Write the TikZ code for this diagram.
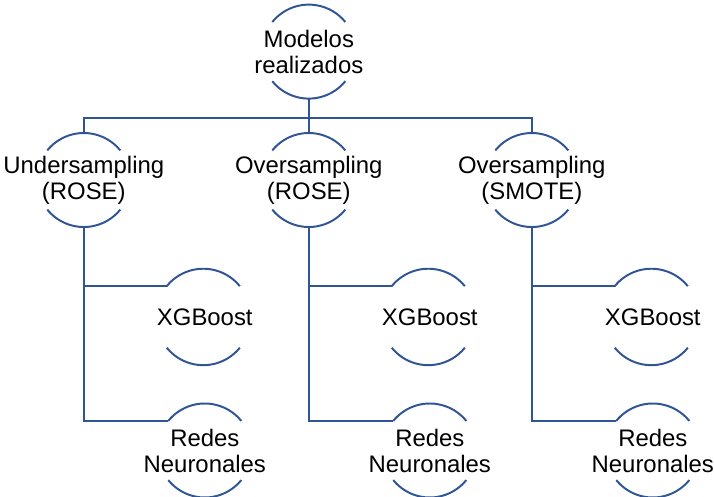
\documentclass[tikz,border=0pt]{standalone}
\usepackage{fontspec}
\setmainfont{Liberation Sans}
\usetikzlibrary{positioning, calc}
\definecolor{arcblue}{RGB}{47,85,151}
\tikzset{
  mdl/.style = {circle, minimum size=2.35cm, inner sep=-40pt, outer sep=0pt, align=center, font=\fontsize{17}{18.5}\selectfont},
  arcline/.style = {draw=arcblue, line width=1.4pt},
  link/.style = {draw=arcblue, line width=1.4pt}
}

\begin{document}
\begin{tikzpicture}[node distance=0.94cm]
	\useasboundingbox (0,0) rectangle (17.85,-12.4);
	\node [mdl] (m) at (7.72,-1.29) {Modelos\\ realizados};
	\node [mdl, below = 0.86cm of m] (o) {Oversampling\\ (ROSE)};
	\node [mdl, left = 3.275cm of o] (u) {Undersampling\\ (ROSE)};
	\node [mdl, right = 3.225cm of o] (s) {Oversampling\\ (SMOTE)};
	\node [mdl, below = 1.025cm of u, xshift=3.025cm] (ux) {XGBoost};
	\node [mdl, below = of ux] (ur) {Redes\\ Neuronales};
	\node [mdl, below = 1.025cm of o, xshift=3.025cm] (ox) {XGBoost};
	\node [mdl, below = of ox] (or) {Redes\\ Neuronales};
	\node [mdl, below = 1.025cm of s, xshift=3.025cm] (sx) {XGBoost};
	\node [mdl, below = of sx] (sr) {Redes\\ Neuronales};
	% half-open circles
	\foreach \n in {m,u,o,s,ux,ur,ox,or,sx,sr} {
		\draw [arcline] (\n.141) arc [start angle=141, end angle=39, radius=1.175cm];
		\draw [arcline] (\n.219) arc [start angle=219, end angle=321, radius=1.175cm];
	}
	% connectors
	\coordinate (bus) at ($(m.south)+(0,-0.49)$);
	\draw [link] (m.south) -- (bus);
	\draw [link] (bus) -| (u.north);
	\draw [link] (bus) -| (s.north);
	\draw [link] (bus) -- (bus -| o.north) -- (o.north);
	\foreach \p in {u,o,s} {
		\draw [link] (\p.south) |- (\p x.141);
		\draw [link] (\p.south) |- (\p r.141);
	}
\end{tikzpicture}
\end{document}
